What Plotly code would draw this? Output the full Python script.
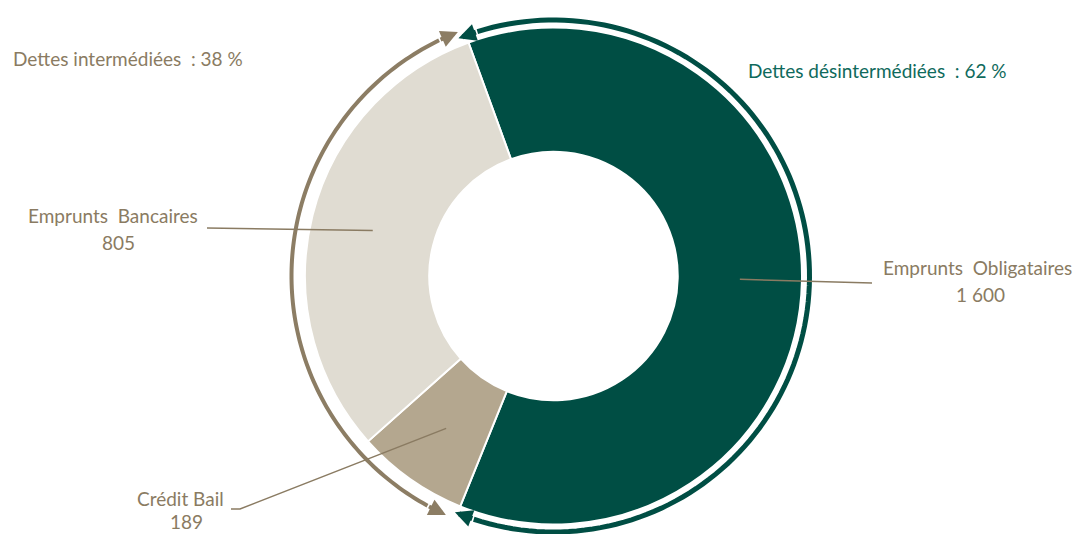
import math
import plotly.graph_objects as go

# ---------------- data ----------------
categories = ["Emprunts Obligataires", "Crédit Bail", "Emprunts Bancaires"]
values = [1600, 189, 805]
value_labels = ["1 600", "189", "805"]
groups = {"Dettes désintermédiées": ["Emprunts Obligataires"],
          "Dettes intermédiées": ["Crédit Bail", "Emprunts Bancaires"]}

# ---------------- style ----------------
W, H = 1077, 534
GREEN = "#004E44"
TAN = "#B4A78F"
BEIGE = "#E0DCD2"
TXT_TAN = "#8A7B62"
TXT_GREEN = "#0F6A5C"
ARC_TAN = "#8C7D64"
FONT = "Lato"
FS = 19

cx, cy, R = 553.5, 276.0, 248.5
hole = 0.5
rotation = -20.0

total = sum(values)
# slice boundary angles (clockwise from 12 o'clock, degrees)
bounds = [rotation]
for v in values:
    bounds.append(bounds[-1] + 360.0 * v / total)


def pt(theta, r):
    t = math.radians(theta)
    return cx + r * math.sin(t), cy - r * math.cos(t)


fig = go.Figure()

fig.add_trace(go.Pie(
    labels=categories, values=values, sort=False, direction="clockwise",
    rotation=rotation, hole=hole,
    marker=dict(colors=[GREEN, TAN, BEIGE], line=dict(color="white", width=2)),
    textinfo="none", hoverinfo="none", showlegend=False,
    domain=dict(x=[(cx - R) / W, (cx + R) / W], y=[1 - (cy + R) / H, 1 - (cy - R) / H]),
))

# invisible pixel axes
fig.add_trace(go.Scatter(x=[0, W], y=[0, H], mode="markers", marker=dict(opacity=0),
                         hoverinfo="skip", showlegend=False))

shapes = []
annotations = []


def arc_with_arrows(t0, t1, r, color, width, asize):
    back = 4.5
    n = 120
    a0, a1 = t0 + back, t1 - back
    pts = [pt(a0 + (a1 - a0) * i / n, r) for i in range(n + 1)]
    path = "M " + " L ".join(f"{x:.2f},{y:.2f}" for x, y in pts)
    shapes.append(dict(type="path", path=path, xref="x", yref="y",
                       line=dict(color=color, width=width), layer="above"))
    for tip, tail in ((t0, a0), (t1, a1)):
        tx, ty = pt(tip, r)
        bx, by = pt(tail, r)
        annotations.append(dict(x=tx, y=ty, ax=bx, ay=by, xref="x", yref="y",
                                axref="x", ayref="y", text="", showarrow=True,
                                arrowhead=2, arrowsize=asize, arrowwidth=width,
                                arrowcolor=color, standoff=0))


# green arc: désintermédiées (first slice)
arc_with_arrows(bounds[0] - 1.8, bounds[1] + 0.6, 256, GREEN, 5, 0.7)
# tan arc: intermédiées (other slices)
arc_with_arrows(bounds[1] + 2.2, bounds[3] - 1.4, 262, ARC_TAN, 4, 0.85)

# leader lines from mid-ring of each slice
rmid = R * (1 + hole) / 2
label_pos = {
    "Emprunts Obligataires": dict(end=[(872, 283)], name=(977, 267), val=(980, 294)),
    "Crédit Bail": dict(end=[(240, 509), (231, 509)], name=(180, 498), val=(186, 521)),
    "Emprunts Bancaires": dict(end=[(207, 228)], name=(113, 215), val=(118, 242)),
}
for i, cat in enumerate(categories):
    mid = (bounds[i] + bounds[i + 1]) / 2
    sx, sy = pt(mid, rmid)
    lp = label_pos[cat]
    pts = [(sx, sy)] + lp["end"]
    path = "M " + " L ".join(f"{x:.2f},{y:.2f}" for x, y in pts)
    shapes.append(dict(type="path", path=path, xref="x", yref="y",
                       line=dict(color=TXT_TAN, width=1.5), layer="above"))
    for key, txt in (("name", cat.replace(" ", "  ") if cat != "Crédit Bail" else cat),
                     ("val", value_labels[i])):
        x, y = lp[key]
        annotations.append(dict(x=x, y=y, xref="x", yref="y", text=txt, showarrow=False,
                                xanchor="center", yanchor="middle",
                                font=dict(family=FONT, size=FS, color=TXT_TAN)))

# group titles
pct_des = round(100 * sum(values[categories.index(c)] for c in groups["Dettes désintermédiées"]) / total)
pct_int = round(100 * sum(values[categories.index(c)] for c in groups["Dettes intermédiées"]) / total)
annotations.append(dict(x=11, y=58, xref="x", yref="y", xanchor="left", yanchor="middle",
                        text=f"Dettes intermédiées  : {pct_int} %", showarrow=False,
                        font=dict(family=FONT, size=FS, color=TXT_TAN)))
annotations.append(dict(x=746, y=70, xref="x", yref="y", xanchor="left", yanchor="middle",
                        text=f"Dettes désintermédiées  : {pct_des} %", showarrow=False,
                        font=dict(family=FONT, size=FS, color=TXT_GREEN)))

fig.update_layout(
    width=W, height=H, margin=dict(l=0, r=0, t=0, b=0),
    paper_bgcolor="white", plot_bgcolor="rgba(0,0,0,0)",
    xaxis=dict(range=[0, W], visible=False, fixedrange=True, domain=[0, 1]),
    yaxis=dict(range=[H, 0], visible=False, fixedrange=True, domain=[0, 1]),
    shapes=shapes, annotations=annotations, showlegend=False,
)

fig.write_html("out.html")
